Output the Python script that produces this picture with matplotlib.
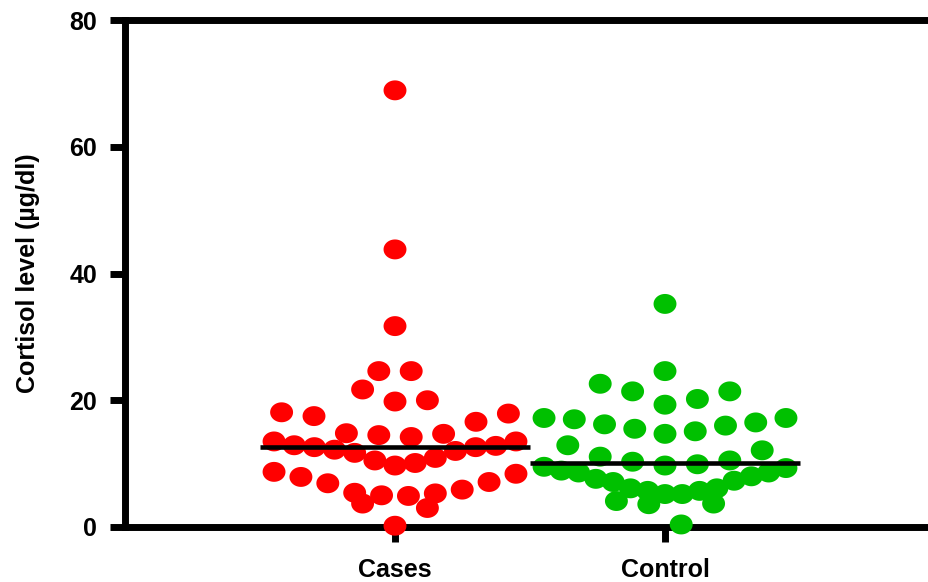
import matplotlib
matplotlib.use("Agg")
import matplotlib.pyplot as plt
import numpy as np

plt.rcParams['font.family'] = ['Liberation Sans', 'DejaVu Sans']

groups = ["Cases", "Control"]
colors = ["#ff0000", "#00c000"]

cases = [68.9, 43.8, 31.7, 24.6, 24.6, 21.7, 19.8, 20.0, 18.1, 17.5, 16.6,
         17.9, 13.5, 12.9, 12.6, 12.2, 14.8, 11.7, 14.5, 14.2, 14.7, 12.0,
         12.6, 12.8, 13.5, 10.5, 9.7, 10.1, 10.9, 8.7, 7.9, 6.9, 5.4, 5.0,
         4.9, 5.3, 5.9, 7.1, 8.4, 3.7, 3.0, 0.2]
control = [35.2, 24.6, 22.6, 21.4, 20.2, 21.4, 19.3, 17.2, 16.5, 16.0, 15.1,
           14.7, 15.5, 16.2, 17.0, 17.2, 12.9, 11.1, 10.3, 9.7, 9.9, 10.5,
           12.1, 9.3, 8.6, 8.0, 7.3, 6.1, 5.7, 5.2, 5.2, 5.7, 6.1, 7.1, 7.6,
           8.6, 8.9, 9.5, 3.7, 3.6, 4.1, 0.4]
yticks = [0, 20, 40, 60, 80]


def swarm(values, row_h=4.4, step=0.12, max_w=0.896):
    # prism-like layout: bin sorted values into rows, smallest in the middle
    values = np.asarray(values)
    order = np.argsort(values, kind="stable")
    rows, cur, start = [], [], None
    for i in order:
        if cur and values[i] - start > row_h:
            rows.append(cur)
            cur = []
        if not cur:
            start = values[i]
        cur.append(i)
    rows.append(cur)
    off = np.zeros(len(values))
    for row in rows:
        n = len(row)
        sp = step if n < 2 else min(step, max_w / (n - 1))
        for k, i in enumerate(row):
            if n % 2:
                slot = ((k + 1) // 2) * (1 if k % 2 else -1)
            else:
                slot = (k // 2 + 0.5) * (-1 if k % 2 else 1)
            off[i] = slot * sp
    return off


t = np.linspace(0, 2 * np.pi, 60)
ellipse = np.column_stack([1.15 * np.cos(t), np.sin(t)])

fig = plt.figure(figsize=(9.29, 5.82), dpi=100)
ax = fig.add_axes([125 / 929, 55 / 582, 810 / 929, 507 / 582])

for pos, (vals, col) in enumerate(zip([cases, control], colors)):
    x = pos + swarm(vals)
    ax.scatter(x, vals, s=16.5 ** 2, marker=ellipse, color=col,
               edgecolors="none", zorder=3, clip_on=False)
    med = np.median(vals)
    ax.plot([pos - 0.5, pos + 0.5], [med, med], color="k", lw=3.3,
            solid_capstyle="butt", zorder=4)

ax.set_xlim(-1, 2)
ax.set_ylim(0, 80)
ax.set_yticks(yticks)
ax.set_xticks([0, 1])
ax.set_xticklabels(groups)

for s in ["left", "bottom", "top"]:
    ax.spines[s].set_linewidth(5)
ax.spines["right"].set_visible(False)

ax.tick_params(axis="both", length=11, width=5, labelsize=18)
ax.tick_params(axis="x", pad=11)
ax.tick_params(axis="y", pad=9)
for lab in ax.get_xticklabels() + ax.get_yticklabels():
    lab.set_fontweight("bold")

ax.set_ylabel("Cortisol level (µg/dl)", fontsize=18, fontweight="bold",
              labelpad=21)

fig.savefig("out.png", dpi=100)
